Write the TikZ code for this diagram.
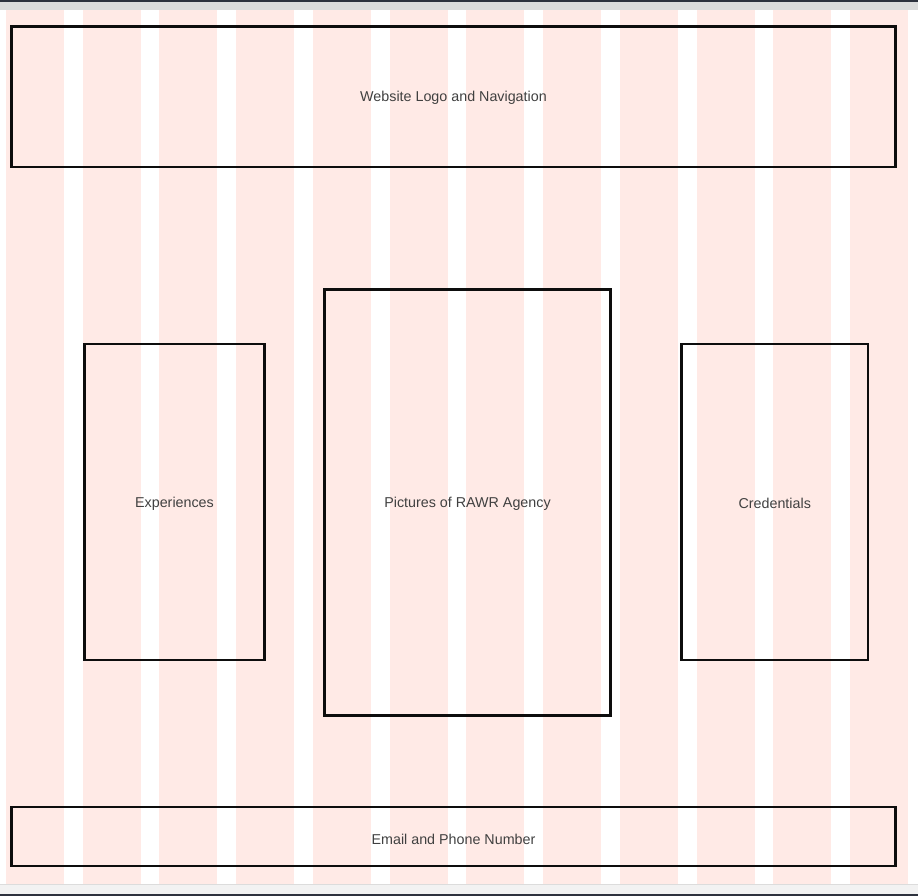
\documentclass[tikz,border=0pt]{standalone}
\usepackage{fontspec}
\setmainfont{Liberation Sans}
\usetikzlibrary{positioning}
\definecolor{gridpink}{RGB}{255,234,230}
\definecolor{bargray}{RGB}{220,220,220}
\definecolor{footgray}{RGB}{242,242,242}
\definecolor{bardark}{RGB}{46,50,62}
\definecolor{labelgray}{RGB}{64,64,64}
\tikzset{
  block/.style={draw=black!95, line width=2.8pt, inner sep=0pt, outer sep=0pt, anchor=north west},
  blocktext/.style={text=labelgray, font=\fontsize{14.3}{16}\selectfont, yshift=-1.5pt}
}
\begin{document}
\begin{tikzpicture}[x=1pt,y=-1pt]
  \def\cw{58}      % column width
  \def\cs{76.73}   % column step
  \useasboundingbox (0,0) rectangle (918,896);
  \fill[white] (0,0) rectangle (918,896);
  % browser bars
  \fill[bardark] (0,0) rectangle (918,2);
  \fill[bargray] (0,2) rectangle (918,10);
  \fill[footgray] (0,884) rectangle (918,894);
  \draw[bargray, line width=1pt] (0,884.5) -- (918,884.5);
  \fill[bardark] (0,894) rectangle (918,896);
  % grid columns
  \foreach \i in {0,...,11} { \fill[gridpink] (6+\i*\cs,10) rectangle +(\cw,874); }
  % layout blocks
  \node[block, minimum width=884pt, minimum height=140.5pt] (header) at (11.5,26.5) {};
  \node[block, minimum width=180pt, minimum height=316pt] (experiences) at (84.5,344) {};
  \node[block, minimum width=286pt, minimum height=426pt] (pictures) at (324.5,289.5) {};
  \node[block, minimum width=186.5pt, minimum height=316pt] (credentials) at (681.5,344) {};
  \node[block, minimum width=884pt, minimum height=59pt] (footer) at (11.5,807) {};
  \node[blocktext] at (header.center) {Website Logo and Navigation};
  \node[blocktext] at (experiences.center) {Experiences};
  \node[blocktext] at (pictures.center) {Pictures of RAWR Agency};
  \node[blocktext] at (credentials.center) {Credentials};
  \node[blocktext, yshift=-1pt] at (footer.center) {Email and Phone Number};
\end{tikzpicture}
\end{document}
